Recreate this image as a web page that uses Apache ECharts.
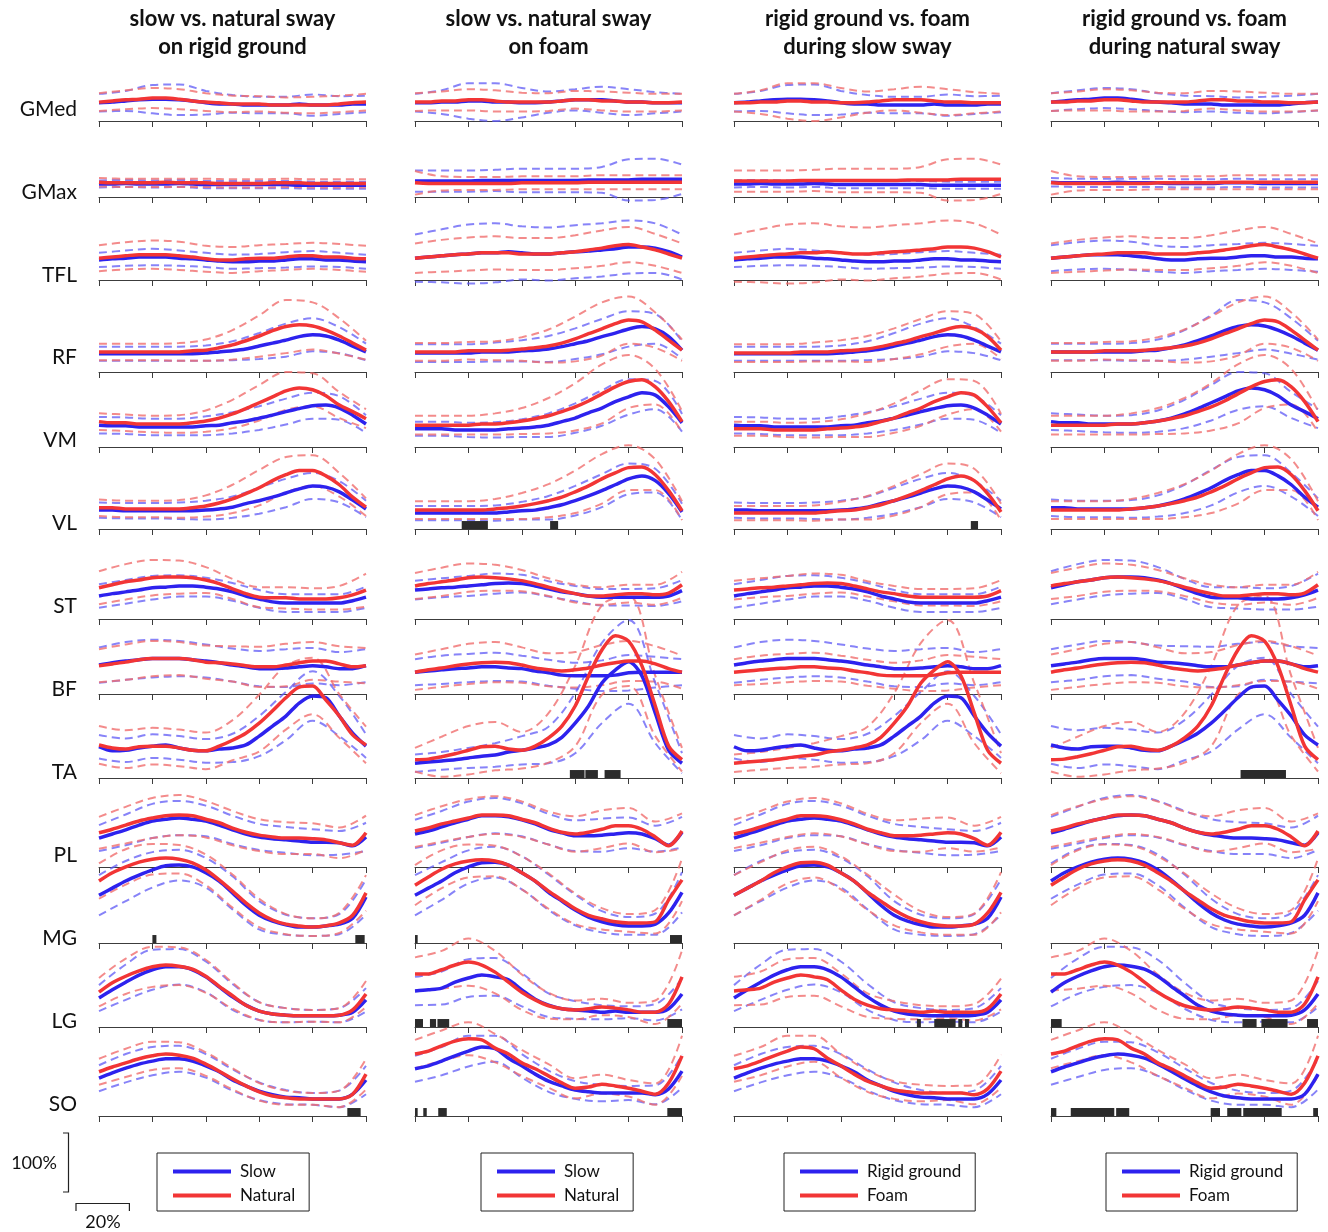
<!DOCTYPE html>
<html>
<head>
<meta charset="utf-8">
<script src="https://cdn.jsdelivr.net/npm/echarts@6/dist/echarts.min.js"></script>
<style>
html,body{margin:0;padding:0;background:#fff;}
#chart{width:1328px;height:1232px;}
</style>
</head>
<body>
<div id="chart"></div>
<script>
// ---------------- DATA ----------------
const muscles = ['GMed','GMax','TFL','RF','VM','VL','ST','BF','TA','PL','MG','LG','SO'];
const columnTitles = [
  ['slow vs. natural sway','on rigid ground'],
  ['slow vs. natural sway','on foam'],
  ['rigid ground vs. foam','during slow sway'],
  ['rigid ground vs. foam','during natural sway']
];
const legendNames = [['Slow','Natural'],['Slow','Natural'],['Rigid ground','Foam'],['Rigid ground','Foam']];
// which condition is drawn blue / red in each column
const columnPairs = [['SR','NR'],['SF','NF'],['SR','SF'],['NR','NF']];
// gait-cycle phase (%) of mean samples and of SD samples
const phase21 = [0,5,10,15,20,25,30,35,40,45,50,55,60,65,70,75,80,85,90,95,100];
const phase11 = [0,10,20,30,40,50,60,70,80,90,100];
const xTicks = [0,20,40,60,80,100];

// mean EMG (% , rows follow `muscles`) — SR slow/rigid, NR natural/rigid, SF slow/foam, NF natural/foam
const meanSR = [
  [31,32,34,36,37,37,36,34,31,29,29,27,27,27,27,29,27,27,27,29,29],
  [22,22,23,22,22,22,23,22,21,21,21,21,21,21,21,20,20,20,20,20,20],
  [34,36,37,39,39,39,37,36,34,32,31,31,32,32,34,36,36,34,34,32,31],
  [31,31,31,31,31,31,31,31,32,34,36,39,44,49,54,60,63,61,54,44,34],
  [37,36,36,34,34,34,34,34,36,37,41,44,49,54,60,65,70,71,66,54,39],
  [32,32,31,31,31,31,31,31,32,34,37,43,48,54,61,68,73,71,63,49,34],
  [39,43,46,49,53,54,56,56,54,51,46,39,34,29,27,27,27,27,27,31,37],
  [49,53,56,58,60,60,60,58,56,53,49,46,43,43,44,46,48,46,43,43,48],
  [53,46,47,51,54,56,51,47,46,49,51,56,71,88,105,127,139,136,105,76,54],
  [49,56,63,71,78,81,83,81,78,71,63,56,51,48,46,44,42,42,41,36,51],
  [81,93,105,115,124,131,132,129,119,105,85,64,47,37,31,27,27,29,32,42,78],
  [49,63,76,88,97,102,102,97,85,68,51,37,27,22,20,19,19,19,20,25,46],
  [64,73,81,88,93,97,97,93,85,75,61,51,42,36,32,31,29,29,29,37,61]
];
const meanNR = [
  [32,34,36,37,39,39,37,34,32,31,29,29,29,27,27,27,27,27,29,31,32],
  [25,24,24,24,24,25,24,24,24,23,23,23,23,24,24,24,23,23,23,23,23],
  [37,39,41,43,43,43,41,39,36,34,34,36,37,37,39,41,41,39,39,37,36],
  [34,34,34,34,34,34,34,36,37,41,46,53,61,70,77,80,78,71,61,49,37],
  [43,41,41,39,39,39,39,41,44,49,56,65,75,85,95,100,97,87,71,60,48],
  [36,36,34,34,34,34,34,36,39,44,51,60,70,82,92,99,99,90,75,54,37],
  [53,58,63,66,70,71,71,70,66,60,51,43,37,36,36,34,34,34,36,41,49],
  [48,51,54,58,60,60,60,58,54,53,51,48,46,46,49,53,56,56,51,46,48],
  [56,51,49,53,54,54,51,47,46,54,64,76,93,114,136,154,156,132,105,73,56],
  [58,64,71,78,83,87,88,87,81,75,66,59,54,51,49,49,48,46,41,37,58],
  [105,119,129,137,142,144,142,136,124,107,88,68,51,39,32,29,27,29,34,47,85],
  [59,75,86,95,102,105,103,98,86,69,53,37,27,22,20,19,19,19,20,29,56],
  [75,83,90,97,102,105,103,98,88,76,63,51,41,34,31,29,29,29,29,37,71]
];
const meanSF = [
  [31,31,32,32,34,34,32,32,31,31,32,34,36,36,36,34,32,32,31,31,31],
  [27,27,27,27,27,28,28,28,28,28,28,28,28,29,29,29,29,30,30,30,30],
  [37,39,41,43,44,46,46,48,46,44,44,46,48,49,51,53,56,56,54,48,39],
  [32,32,32,32,32,34,34,34,36,37,39,43,48,53,60,66,73,77,73,60,37],
  [31,31,31,29,29,29,29,31,32,34,37,43,49,58,66,77,85,92,88,68,41],
  [27,27,27,27,27,27,27,29,31,32,36,41,48,56,65,75,85,90,82,60,29],
  [49,51,53,54,56,58,60,61,60,56,51,46,43,39,37,37,37,37,37,39,48],
  [37,39,41,43,44,46,46,44,43,39,36,32,31,31,31,32,36,37,37,37,37],
  [25,27,29,31,34,37,39,44,47,51,56,69,93,122,161,183,197,173,110,47,25],
  [56,61,68,75,81,87,87,85,80,73,64,58,53,53,54,56,58,56,48,37,59],
  [81,93,105,119,129,136,137,132,119,105,86,71,56,44,36,31,29,29,32,51,86],
  [61,63,66,76,83,88,85,80,63,47,37,31,29,27,25,27,25,25,25,31,56],
  [80,85,93,102,110,117,114,98,85,71,59,51,44,41,39,39,39,39,36,46,76]
];
const meanNF = [
  [32,32,34,34,36,36,34,32,32,32,32,34,36,36,34,34,32,32,31,31,32],
  [24,23,23,23,23,23,23,23,24,24,24,24,24,25,25,25,25,25,25,25,25],
  [37,39,41,43,44,46,46,46,44,44,44,46,48,51,54,58,60,56,51,44,37],
  [34,34,34,34,36,36,36,37,39,41,44,49,56,65,73,82,88,85,71,54,37],
  [37,37,37,37,37,39,39,41,44,48,53,60,68,78,90,102,111,114,102,77,43],
  [32,32,32,32,32,32,34,36,39,43,48,54,63,73,85,95,104,105,92,65,31],
  [56,60,63,66,70,71,70,68,65,60,54,48,43,39,39,41,43,43,41,44,58],
  [37,41,44,48,51,53,54,53,49,44,41,39,41,44,49,53,56,56,51,43,37],
  [31,32,36,41,47,53,54,49,47,54,68,88,122,173,217,241,232,190,122,54,31],
  [61,66,73,78,83,88,88,87,81,75,66,59,56,59,64,70,70,64,51,36,61],
  [98,112,125,134,139,141,139,132,119,105,88,73,58,47,41,36,34,34,36,73,107],
  [90,90,97,105,110,105,93,76,59,46,36,31,29,31,34,32,29,25,25,39,85],
  [105,110,119,127,131,129,115,105,90,80,68,56,47,49,54,51,47,42,37,56,102]
];
// standard deviations (%) at phase11
const sdSR = [
  [15,17,24,26,20,15,14,14,18,15,14],
  [6,6,6,6,6,6,6,6,6,6,6],
  [12,13,14,13,12,12,12,13,13,12,12],
  [12,12,12,12,13,16,22,28,28,22,14],
  [14,14,14,14,16,18,20,22,22,20,15],
  [13,13,13,14,16,18,22,24,22,18,14],
  [20,20,20,18,16,15,15,15,15,15,18],
  [30,32,32,30,28,28,30,32,30,28,28],
  [20,20,20,20,20,24,34,41,42,34,20],
  [22,26,29,29,26,24,22,22,22,20,24],
  [34,34,30,26,25,28,24,17,15,17,30],
  [22,30,34,30,26,22,15,12,10,12,20],
  [22,24,24,22,20,18,15,12,10,14,24]
];
const sdNR = [
  [15,16,17,17,15,14,13,13,14,14,14],
  [7,7,7,7,7,7,7,7,7,7,7],
  [22,23,24,24,22,22,22,22,22,22,22],
  [14,14,14,15,18,25,35,45,40,30,16],
  [14,14,14,15,18,24,30,32,28,22,16],
  [14,14,14,15,18,24,30,30,26,20,15],
  [28,30,30,28,22,17,17,18,18,20,28],
  [28,30,30,28,28,30,34,36,32,30,30],
  [32,32,31,31,31,34,48,54,48,37,31],
  [27,31,34,34,31,29,27,27,26,26,29],
  [30,30,26,24,26,28,24,17,15,17,30],
  [24,30,34,32,28,22,15,12,10,12,22],
  [22,24,24,22,20,18,15,12,10,14,26]
];
const sdSF = [
  [15,20,30,32,25,18,18,22,22,18,15],
  [18,18,18,18,20,20,20,22,35,35,25],
  [40,45,50,50,45,45,45,45,45,42,38],
  [15,15,15,16,18,22,26,30,30,25,15],
  [12,12,12,13,15,20,25,30,30,24,15],
  [12,12,12,13,15,20,25,28,26,20,14],
  [16,16,17,17,15,13,13,14,14,15,18],
  [22,24,24,24,22,22,22,26,30,26,22],
  [15,15,17,20,24,31,51,68,71,51,17],
  [24,27,30,30,28,26,26,28,26,22,26],
  [34,32,28,26,28,30,26,18,15,18,34],
  [24,28,32,32,28,20,15,12,10,14,26],
  [22,24,26,22,20,18,15,14,12,16,28]
];
const sdNF = [
  [15,16,18,18,16,15,15,16,16,15,14],
  [20,12,11,11,11,11,11,12,12,12,12],
  [25,27,28,28,27,27,28,30,30,27,25],
  [15,15,15,16,20,28,38,45,40,30,18],
  [16,16,16,18,22,30,40,50,45,30,18],
  [15,15,15,17,22,28,36,42,38,26,16],
  [22,24,24,22,18,15,15,15,15,17,22],
  [30,32,34,34,30,28,30,34,34,30,28],
  [20,34,41,41,31,42,68,76,76,51,20],
  [27,30,32,32,30,28,30,32,30,26,30],
  [34,32,28,26,28,30,26,18,15,20,36],
  [28,32,40,36,30,22,16,14,12,20,45],
  [24,26,28,24,22,20,17,16,14,18,34]
];
// significant phases: [muscle index, start %, end %]
const sigCol1 = [[10,20,21.5],[10,96,99.5],[12,93,98]];
const sigCol2 = [[5,17.5,27.3],[5,50.6,53.6],[8,58,63.5],[8,63.8,68.5],[8,71,77],[10,0,1],[10,95.5,100],
  [11,0,3],[11,5.6,7.9],[11,8.4,12.8],[11,94.5,100],[12,0,1],[12,3.1,4.4],[12,8.7,11.9],[12,94.5,100]];
const sigCol3 = [[5,88.7,91.4],[11,68.5,70],[11,75,83],[11,84,85.5],[11,86.5,88]];
const sigCol4 = [[8,71,88],[11,0,4],[11,71.7,77],[11,78.8,88.6],[11,95.9,100],
  [12,0,2],[12,7.4,23.7],[12,24.4,29.3],[12,59.8,63.3],[12,66,71.3],[12,72,86.4],[12,98.2,100]];

// ---------------- LAYOUT / STYLE ----------------
const COL_X = [99,415,734,1051];
const COL_W = 267;
const BASE_Y = [121,197,280,372,447,529,619,694,778,867,943,1027,1116];
const UNIT_PX = 59;          // pixel height of 100 %
const SIG_H = 13.5;          // height of significance bar in %
const LEG_X = [157,481,784,1106];
const FONT = 'Lato, "Open Sans", sans-serif';
const BLUE = '#2d22ee', RED = '#f23535';
const BLUE_D = 'rgba(95,90,245,0.75)', RED_D = 'rgba(240,110,110,0.8)';

const conds = {
  SR:{mean:meanSR, sd:sdSR}, NR:{mean:meanNR, sd:sdNR},
  SF:{mean:meanSF, sd:sdSF}, NF:{mean:meanNF, sd:sdNF}
};
const sigs = [sigCol1, sigCol2, sigCol3, sigCol4];

const grid=[], xAxis=[], yAxis=[], series=[];
for (let c=0;c<4;c++){
  for (let m=0;m<muscles.length;m++){
    const idx = grid.length;
    grid.push({left:COL_X[c], top:BASE_Y[m]-UNIT_PX, width:COL_W, height:UNIT_PX});
    xAxis.push({gridIndex:idx, type:'value', min:0, max:100, interval:20,
      axisLine:{show:true, onZero:false, lineStyle:{color:'#3c3c3c', width:1}},
      axisTick:{show:true, length:6, inside:false, lineStyle:{color:'#3c3c3c', width:1}},
      axisLabel:{show:false}, splitLine:{show:false}});
    yAxis.push({gridIndex:idx, type:'value', min:0, max:100, show:false, splitLine:{show:false}});
    const pair = columnPairs[c];
    const colors = [[BLUE,BLUE_D],[RED,RED_D]];
    // dashed SD lines
    pair.forEach((k,j)=>{
      const mean = conds[k].mean[m], sd = conds[k].sd[m];
      [1,-1].forEach(s=>{
        series.push({type:'line', xAxisIndex:idx, yAxisIndex:idx, silent:true, clip:false,
          symbol:'none', smooth:0.35, z:2,
          lineStyle:{color:colors[j][1], width:2, type:[8,5]},
          data: phase11.map((x,i)=>[x, mean[phase21.indexOf(x)] + s*sd[i]])});
      });
    });
    // mean lines
    pair.forEach((k,j)=>{
      const mean = conds[k].mean[m];
      series.push({type:'line', name:legendNames[c][j], xAxisIndex:idx, yAxisIndex:idx, silent:true, clip:false,
        symbol:'none', smooth:0.3, z:3+j,
        itemStyle:{color:colors[j][0]},
        lineStyle:{color:colors[j][0], width:3.5},
        data: phase21.map((x,i)=>[x, mean[i]])});
    });
    const sig = sigs[c].filter(s=>s[0]===m).map(s=>[s[1],s[2]]);
    if (sig.length){
      series.push({type:'custom', xAxisIndex:idx, yAxisIndex:idx, silent:true, z:6,
        encode:{x:[0,1]},
        renderItem:(params, api)=>{
          const p0 = api.coord([api.value(0), 0]);
          const p1 = api.coord([api.value(1), SIG_H]);
          return {type:'rect', shape:{x:p0[0], y:p1[1], width:p1[0]-p0[0], height:p0[1]-p1[1]},
            style:{fill:'#2b2b2b'}};
        },
        data:sig});
    }
  }
}

const graphic = [];
muscles.forEach((name,m)=>{
  graphic.push({type:'text', x:77, y:109 + m*82.9,
    style:{text:name, font:'21px '+FONT, fill:'#111', textAlign:'right', textVerticalAlign:'middle'}});
});
columnTitles.forEach((lines,c)=>{
  lines.forEach((t,l)=>{
    graphic.push({type:'text', x:COL_X[c]+COL_W/2, y:19 + l*28,
      style:{text:t, font:'bold 22px '+FONT, fill:'#111', textAlign:'center', textVerticalAlign:'middle'}});
  });
});
// scale bars
graphic.push({type:'polyline', shape:{points:[[63,1133],[68.5,1133],[68.5,1133+UNIT_PX],[63,1133+UNIT_PX]]},
  style:{stroke:'#222', lineWidth:1.2, fill:null}});
graphic.push({type:'text', x:34, y:1163, style:{text:'100%', font:'18px '+FONT, fill:'#111', textAlign:'center', textVerticalAlign:'middle'}});
graphic.push({type:'polyline', shape:{points:[[76,1211],[76,1203.5],[76+COL_W*0.2,1203.5],[76+COL_W*0.2,1211]]},
  style:{stroke:'#222', lineWidth:1.2, fill:null}});
graphic.push({type:'text', x:103, y:1222, style:{text:'20%', font:'18px '+FONT, fill:'#111', textAlign:'center', textVerticalAlign:'middle'}});

const legend = legendNames.map((names,c)=>({
  data:names, left:LEG_X[c], top:1153, orient:'vertical', icon:'rect',
  itemWidth:58, itemHeight:4, itemGap:7, selectedMode:false,
  borderColor:'#222', borderWidth:1, padding:[10,14,7,16],
  textStyle:{fontSize:17, fontFamily:FONT, color:'#111', padding:[0,0,0,4]}
}));

const chart = echarts.init(document.getElementById('chart'), null, {renderer:'canvas'});
chart.setOption({animation:false, backgroundColor:'#fff', grid, xAxis, yAxis, series, legend, graphic});
</script>
</body>
</html>
